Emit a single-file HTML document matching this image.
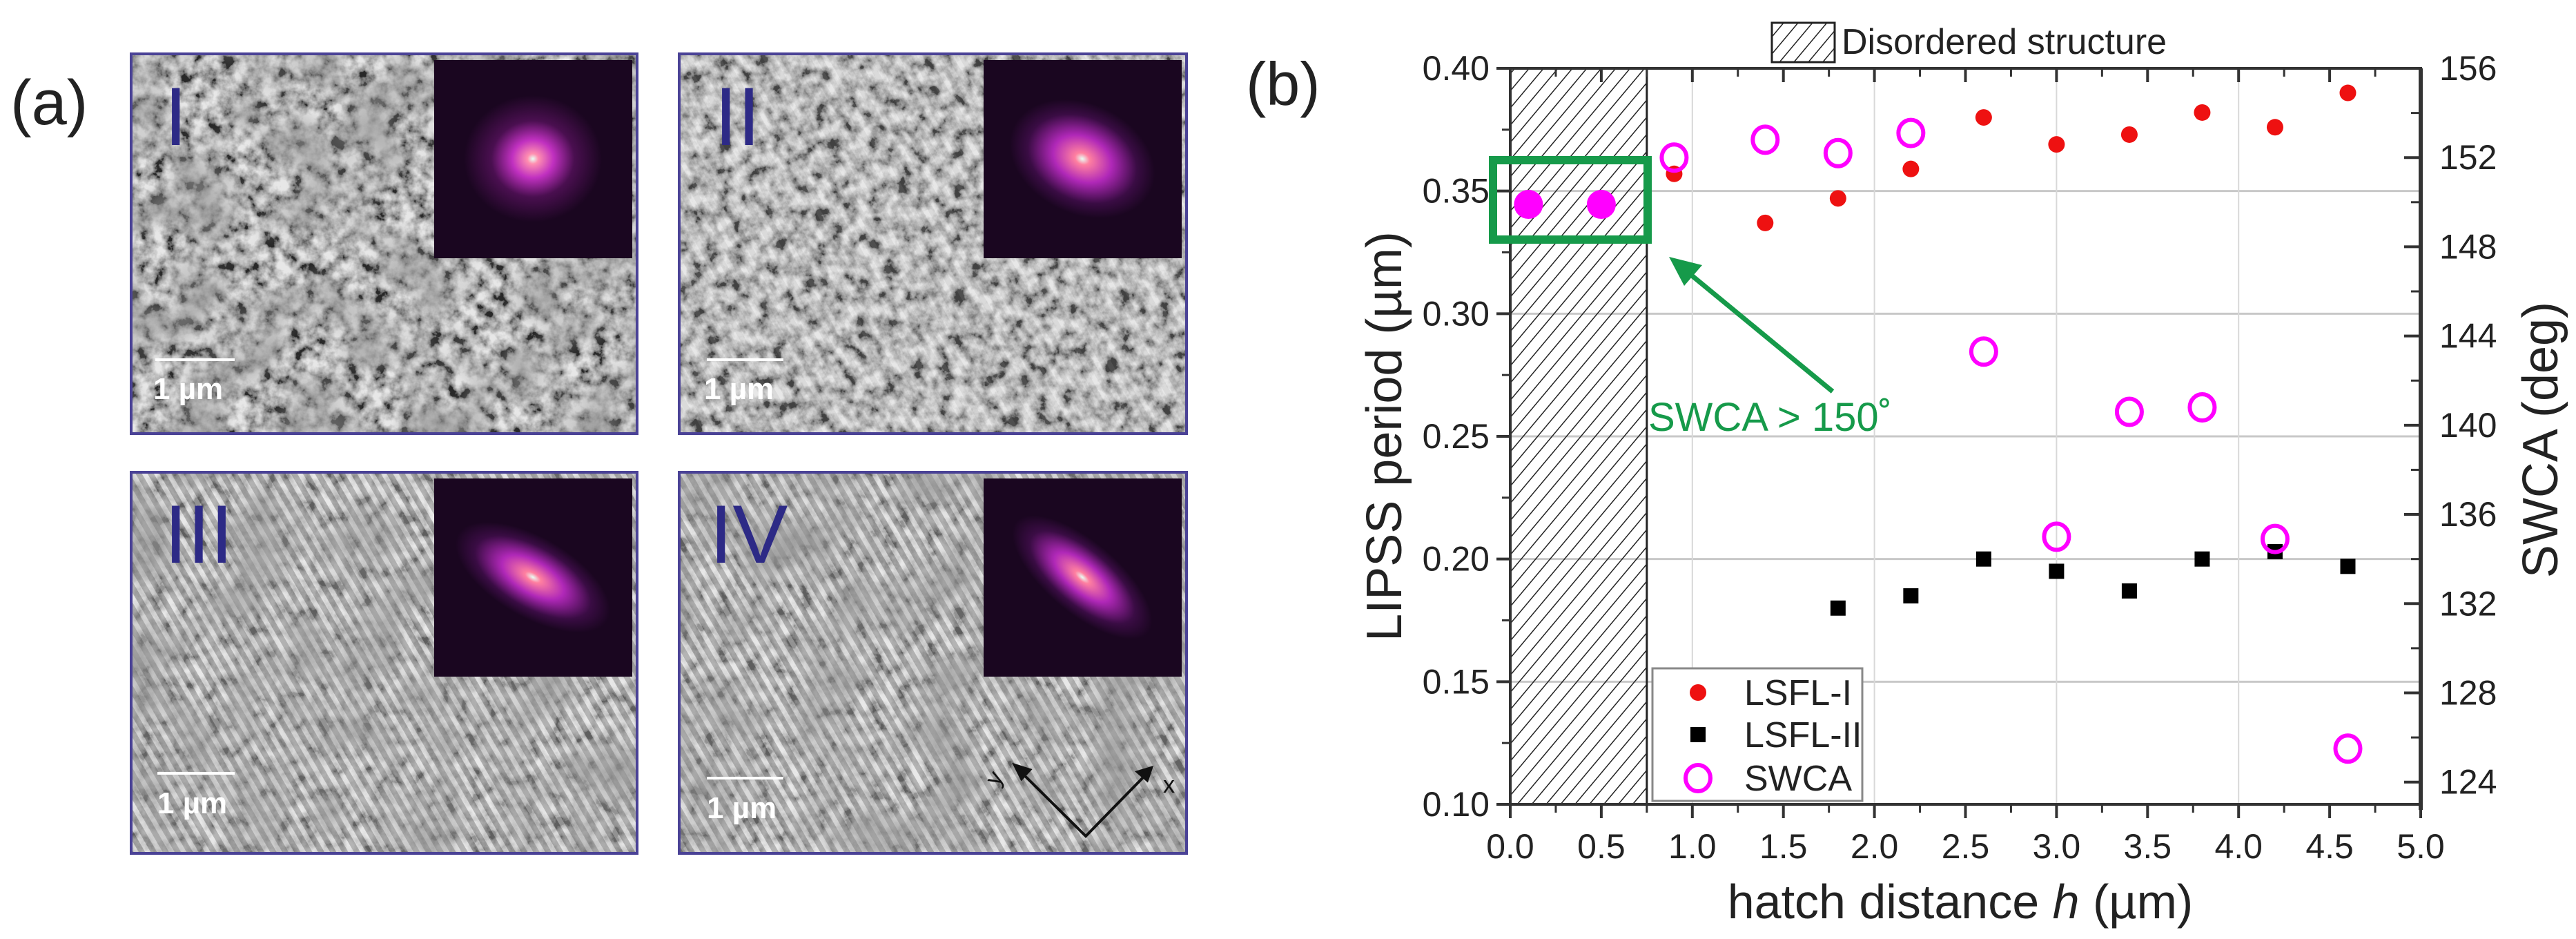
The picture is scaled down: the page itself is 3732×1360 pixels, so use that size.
<!DOCTYPE html>
<html><head><meta charset="utf-8"><style>
html,body{margin:0;padding:0;background:#fff}
svg{display:block;font-family:"Liberation Sans",sans-serif}
</style></head><body>
<svg id="fig" width="3732" height="1360" viewBox="0 0 3732 1360" xmlns="http://www.w3.org/2000/svg">
<defs>
<pattern id="hatch" width="16" height="16" patternUnits="userSpaceOnUse" patternTransform="rotate(40)">
<line x1="0" y1="0" x2="0" y2="16" stroke="#222" stroke-width="3"/>
</pattern>
<pattern id="stripes" width="15" height="15" patternUnits="userSpaceOnUse" patternTransform="rotate(-30)">
<rect width="15" height="15" fill="#8e8e8e"/><rect width="7" height="15" fill="#dcdcdc"/>
</pattern>
<filter id="grain" x="0" y="0" width="100%" height="100%">
<feTurbulence type="fractalNoise" baseFrequency="0.05" numOctaves="4" seed="3"/>
<feColorMatrix type="matrix" values="0 0 0 2.2 -0.6  0 0 0 2.2 -0.6  0 0 0 2.2 -0.6  0 0 0 0 0.75"/>
</filter>
<filter id="grain2" x="0" y="0" width="100%" height="100%">
<feTurbulence type="fractalNoise" baseFrequency="0.012" numOctaves="2" seed="9"/>
<feColorMatrix type="matrix" values="0 0 0 0 0.3  0 0 0 0 0.3  0 0 0 0 0.3  1.6 0 0 0 -0.6"/>
</filter>
<radialGradient id="fft1" cx="50%" cy="50%" r="50%">
<stop offset="0" stop-color="#e8fff4"/><stop offset="0.08" stop-color="#ff8fb0"/><stop offset="0.3" stop-color="#c030c0"/><stop offset="0.6" stop-color="#4a0f50"/><stop offset="1" stop-color="#1a0620"/>
</radialGradient>
<radialGradient id="fft2" cx="50%" cy="50%" r="50%">
<stop offset="0" stop-color="#e8fff4"/><stop offset="0.1" stop-color="#ff80a0"/><stop offset="0.4" stop-color="#b028b8"/><stop offset="0.75" stop-color="#3a0c44"/><stop offset="1" stop-color="#1a0620"/>
</radialGradient>
</defs>

<text x="15" y="180" font-size="92" fill="#222">(a)</text>

<g>
<rect x="190" y="78" width="733" height="550" fill="#a0a0a0"/>
<rect x="190" y="78" width="733" height="550" filter="url(#grain)"/>
<rect x="190" y="78" width="733" height="550" filter="url(#grain2)"/>
<rect x="629" y="87" width="287" height="287" fill="#1a0620"/>
<ellipse cx="772" cy="230" rx="100" ry="92" fill="url(#fft1)"/>
<text x="238" y="210" font-size="120" fill="#2d2a86">I</text>
<line x1="225" y1="521" x2="340" y2="521" stroke="#fff" stroke-width="4"/>
<text x="222" y="578" font-size="44" fill="#fff" font-weight="bold">1 µm</text>
<rect x="190" y="78" width="733" height="550" fill="none" stroke="#4a4296" stroke-width="4"/>
</g>

<g>
<rect x="984" y="78" width="735" height="550" fill="#b0b0b0"/>
<rect x="984" y="78" width="735" height="550" fill="url(#stripes)" opacity="0.4"/>
<rect x="984" y="78" width="735" height="550" filter="url(#grain)" opacity="0.8"/>
<rect x="1425" y="87" width="287" height="287" fill="#1a0620"/>
<ellipse cx="1568" cy="230" rx="110" ry="80" transform="rotate(25 1568 230)" fill="url(#fft2)"/>
<text x="1035" y="210" font-size="120" fill="#2d2a86">II</text>
<line x1="1024" y1="521" x2="1135" y2="521" stroke="#fff" stroke-width="4"/>
<text x="1020" y="578" font-size="44" fill="#fff" font-weight="bold">1 µm</text>
<rect x="984" y="78" width="735" height="550" fill="none" stroke="#4a4296" stroke-width="4"/>
</g>

<g>
<rect x="190" y="684" width="733" height="552" fill="url(#stripes)"/>
<rect x="190" y="684" width="733" height="552" filter="url(#grain)" opacity="0.45"/>
<rect x="190" y="684" width="733" height="552" filter="url(#grain2)"/>
<rect x="629" y="693" width="287" height="287" fill="#1a0620"/>
<ellipse cx="772" cy="836" rx="125" ry="58" transform="rotate(30 772 836)" fill="url(#fft2)"/>
<text x="238" y="815" font-size="120" fill="#2d2a86">III</text>
<line x1="228" y1="1120" x2="340" y2="1120" stroke="#fff" stroke-width="4"/>
<text x="228" y="1178" font-size="44" fill="#fff" font-weight="bold">1 µm</text>
<rect x="190" y="684" width="733" height="552" fill="none" stroke="#4a4296" stroke-width="4"/>
</g>

<g>
<rect x="984" y="684" width="735" height="552" fill="url(#stripes)"/>
<rect x="984" y="684" width="735" height="552" filter="url(#grain)" opacity="0.45"/>
<rect x="984" y="684" width="735" height="552" filter="url(#grain2)"/>
<rect x="1425" y="693" width="287" height="287" fill="#1a0620"/>
<ellipse cx="1568" cy="836" rx="125" ry="52" transform="rotate(40 1568 836)" fill="url(#fft2)"/>
<text x="1028" y="815" font-size="120" fill="#2d2a86">IV</text>
<line x1="1024" y1="1127" x2="1135" y2="1127" stroke="#fff" stroke-width="4"/>
<text x="1024" y="1185" font-size="44" fill="#fff" font-weight="bold">1 µm</text>
<g stroke="#111" stroke-width="4" fill="none">
<polyline points="1478,1117 1573,1211 1660,1122"/>
<polygon points="1470,1108 1492,1115 1480,1128" fill="#111"/>
<polygon points="1668,1112 1648,1118 1662,1130" fill="#111"/>
</g>
<text x="1446" y="1140" font-size="34" fill="#111" transform="rotate(-60 1446 1140)">y</text>
<text x="1685" y="1148" font-size="34" fill="#111">x</text>
<rect x="984" y="684" width="735" height="552" fill="none" stroke="#4a4296" stroke-width="4"/>
</g>

<text x="1805" y="152" font-size="88" fill="#222">(b)</text>
<g id="chart"></g>
</svg>
<script>
const hatchValues = [0.9, 1.4, 1.8, 2.2, 2.6, 3.0, 3.4, 3.8, 4.2, 4.6];
const lsfl1Values = [0.357, 0.337, 0.347, 0.359, 0.380, 0.369, 0.373, 0.382, 0.376, 0.390];
const lsfl2Hatch = [1.8, 2.2, 2.6, 3.0, 3.4, 3.8, 4.2, 4.6];
const lsfl2Values = [0.180, 0.185, 0.200, 0.195, 0.187, 0.200, 0.203, 0.197];
const swcaHatch = [0.9, 1.4, 1.8, 2.2, 2.6, 3.0, 3.4, 3.8, 4.2, 4.6];
const swcaValues = [152.0, 152.8, 152.2, 153.1, 143.3, 135.0, 140.6, 140.8, 134.9, 125.5];
const disorderedHatch = [0.1, 0.5];
const disorderedSwca = [149.9, 149.9];
const xTicks = ["0.0","0.5","1.0","1.5","2.0","2.5","3.0","3.5","4.0","4.5","5.0"];
const yLeftTicks = ["0.10","0.15","0.20","0.25","0.30","0.35","0.40"];
const yRightTicks = ["124","128","132","136","140","144","148","152","156"];
const disorderedLimit = 0.75;

const NS = "http://www.w3.org/2000/svg";
const g = document.getElementById('chart');
const X0=2188, X1=3507, Y0=99, Y1=1165;
const xMin=0,xMax=5, yLMin=0.10,yLMax=0.40, yRMin=123,yRMax=156;
const sx = v => X0 + (v-xMin)/(xMax-xMin)*(X1-X0);
const syL = v => Y1 - (v-yLMin)/(yLMax-yLMin)*(Y1-Y0);
const syR = v => Y1 - (v-yRMin)/(yRMax-yRMin)*(Y1-Y0);
function el(tag, attrs, parent){const e=document.createElementNS(NS,tag);for(const k in attrs)e.setAttribute(k,attrs[k]);(parent||g).appendChild(e);return e;}

yLeftTicks.forEach(t=>{const v=+t; if(v>yLMin && v<yLMax){
  const l=el('line',{x1:X0,x2:X1,y1:syL(v),y2:syL(v),stroke:'#c8c8c8','stroke-width':3});
  
  
}});
xTicks.forEach(t=>{const v=+t; if(v>xMin && v<xMax && Math.abs(v-Math.round(v))<1e-6){
  const l=el('line',{x1:sx(v),x2:sx(v),y1:Y0,y2:Y1,stroke:'#d8d8d8','stroke-width':2});
  
  
}});

const hr=el('rect',{x:sx(0),y:Y0,width:sx(disorderedLimit)-sx(0),height:Y1-Y0,fill:'url(#hatch)',stroke:'#222','stroke-width':3});



const frame=el('rect',{x:X0,y:Y0,width:X1-X0,height:Y1-Y0,fill:'none',stroke:'#333','stroke-width':4});


const ra=el('line',{x1:X1,x2:X1,y1:Y0,y2:Y1+8,stroke:'#333','stroke-width':6});



xTicks.forEach((t,i)=>{const v=+t, x=sx(v);
  el('line',{x1:x,x2:x,y1:Y1,y2:Y1+20,stroke:'#333','stroke-width':4});
  el('line',{x1:x,x2:x,y1:Y0,y2:Y0+20,stroke:'#333','stroke-width':4});
  if(i<xTicks.length-1){const xm=sx(v+0.25);
    el('line',{x1:xm,x2:xm,y1:Y1,y2:Y1+12,stroke:'#333','stroke-width':3});
    el('line',{x1:xm,x2:xm,y1:Y0,y2:Y0+12,stroke:'#333','stroke-width':3});}
  const tx=el('text',{x:x,y:Y1+78,'font-size':50,'text-anchor':'middle',fill:'#222'});
  tx.textContent=t;
  
  
});
yLeftTicks.forEach((t,i)=>{const v=+t,y=syL(v);
  el('line',{x1:X0-20,x2:X0,y1:y,y2:y,stroke:'#333','stroke-width':4});
  if(i<yLeftTicks.length-1){const ym=syL(v+0.025); el('line',{x1:X0-12,x2:X0,y1:ym,y2:ym,stroke:'#333','stroke-width':3});}
  const tx=el('text',{x:X0-30,y:y+17,'font-size':50,'text-anchor':'end',fill:'#222'});
  tx.textContent=t;
  
  
});
yRightTicks.forEach((t,i)=>{const v=+t,y=syR(v);
  el('line',{x1:X1-24,x2:X1,y1:y,y2:y,stroke:'#333','stroke-width':4});
  if(i<yRightTicks.length-1){const ym=syR(v+2); el('line',{x1:X1-14,x2:X1,y1:ym,y2:ym,stroke:'#333','stroke-width':3});}
  const tx=el('text',{x:X1+27,y:y+17,'font-size':50,fill:'#222'});
  tx.textContent=t;
  
  
});

let at=el('text',{x:2840,y:1330,'font-size':70,'text-anchor':'middle',fill:'#222'});
at.innerHTML='hatch distance <tspan font-style="italic">h</tspan> (µm)';


at=el('text',{x:0,y:0,'font-size':72,'text-anchor':'middle',fill:'#222',transform:'translate(2030,632) rotate(-90)'});
at.textContent='LIPSS period (µm)';


at=el('text',{x:0,y:0,'font-size':72,'text-anchor':'middle',fill:'#222',transform:'translate(3705,637) rotate(-90)'});
at.textContent='SWCA (deg)';



disorderedHatch.forEach((h,i)=>{
  const c=el('circle',{cx:sx(h),cy:syR(disorderedSwca[i]),r:21,fill:'#ff00ff'});
  
  
});
hatchValues.forEach((h,i)=>{
  const c=el('circle',{cx:sx(h),cy:syL(lsfl1Values[i]),r:12,fill:'#ee1111'});
  
  
});
lsfl2Hatch.forEach((h,i)=>{
  const r=el('rect',{x:sx(h)-11,y:syL(lsfl2Values[i])-11,width:22,height:22,fill:'#000'});
  
  
});
swcaHatch.forEach((h,i)=>{
  const c=el('ellipse',{cx:sx(h),cy:syR(swcaValues[i]),rx:18,ry:19,fill:'none',stroke:'#ff00ff','stroke-width':6});
  
  
});

const gb=el('rect',{x:2163,y:232,width:224,height:115,fill:'none',stroke:'#169a4a','stroke-width':12});


const ar=el('line',{x1:2655,y1:567,x2:2440,y2:390,stroke:'#169a4a','stroke-width':7});


el('polygon',{points:'2418,372 2466,384 2440,414',fill:'#169a4a'});
const an=el('text',{x:2388,y:624,'font-size':58,fill:'#169a4a'});
an.textContent='SWCA  > 150˚';



const lh=el('rect',{x:2567,y:33,width:91,height:57,fill:'url(#hatch)',stroke:'#222','stroke-width':3});


const lt=el('text',{x:2668,y:78,'font-size':52,fill:'#222'});
lt.textContent='Disordered structure';



const lg=el('rect',{x:2394,y:968,width:304,height:192,fill:'#fff',stroke:'#888','stroke-width':3});


el('circle',{cx:2460,cy:1003,r:12,fill:'#ee1111'});
el('rect',{x:2449,y:1053,width:22,height:22,fill:'#000'});
el('ellipse',{cx:2460,cy:1127,rx:18,ry:19,fill:'none',stroke:'#ff00ff','stroke-width':6});
[['LSFL-I',1003],['LSFL-II',1064],['SWCA',1127]].forEach(([t,y])=>{
  const tx=el('text',{x:2527,y:y+18,'font-size':52,fill:'#222'});
  tx.textContent=t;
  
  
});
</script>
</body></html>
